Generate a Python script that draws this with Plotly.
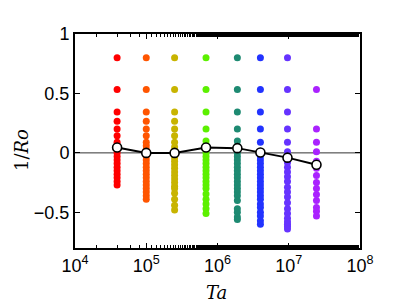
import plotly.graph_objects as go

# Ta values of each column
ta = [3.9e4, 1.0e5, 2.5e5, 6.9e5, 1.9e6, 4.0e6, 9.6e6, 2.45e7]
colors = ["#FF0000", "#FF5500", "#C8B400", "#5CF000", "#1E8A72", "#2233FF", "#6633FF", "#AA22FF"]

# 1/Ro values per column
inv_ro = [
    [0.8, 0.533, 0.343, 0.267, 0.2, 0.145, 0.09, 0.06, 0.03, 0.0, -0.03, -0.06, -0.09, -0.12,
     -0.15, -0.18, -0.21, -0.24, -0.27],
    [0.8, 0.533, 0.343, 0.267, 0.2, 0.145, 0.09, 0.06, 0.03, 0.0, -0.03, -0.06, -0.09, -0.12,
     -0.15, -0.18, -0.21, -0.24, -0.27, -0.3, -0.33, -0.36, -0.39],
    [0.8, 0.533, 0.343, 0.267, 0.2, 0.145, 0.09, 0.05, 0.02, -0.01, -0.04, -0.07, -0.1, -0.13,
     -0.16, -0.19, -0.22, -0.25, -0.28, -0.3, -0.34, -0.39, -0.44, -0.48],
    [0.8, 0.533, 0.343, 0.2, 0.1, 0.06, 0.03, 0.0, -0.03, -0.06, -0.09, -0.12, -0.15, -0.18,
     -0.21, -0.24, -0.27, -0.3, -0.345, -0.39, -0.43, -0.47, -0.51],
    [0.8, 0.533, 0.343, 0.2, 0.1, 0.06, 0.03, 0.0, -0.03, -0.06, -0.09, -0.12, -0.15, -0.18,
     -0.21, -0.24, -0.27, -0.3, -0.33, -0.36, -0.4, -0.47, -0.5, -0.54, -0.56],
    [0.8, 0.533, 0.343, 0.2, 0.09, 0.01, -0.03, -0.06, -0.09, -0.12, -0.15, -0.18, -0.21, -0.24,
     -0.27, -0.3, -0.33, -0.36, -0.39, -0.43, -0.46, -0.5, -0.53, -0.57, -0.6],
    [0.8, 0.533, 0.343, 0.2, 0.09, 0.01, -0.04, -0.08, -0.12, -0.16, -0.2, -0.24, -0.29, -0.33,
     -0.37, -0.42, -0.47, -0.51, -0.55, -0.58, -0.6, -0.62, -0.64],
    [0.533, 0.2, 0.09, 0.01, -0.07, -0.13, -0.19, -0.25, -0.3, -0.35, -0.4, -0.46, -0.49, -0.53],
]

# mean curve
mean_vals = [0.045, 0.0, 0.0, 0.045, 0.04, 0.003, -0.04, -0.1]

x_ticks = [1e4, 1e5, 1e6, 1e7, 1e8]
x_tick_text = ["10<sup>4</sup>", "10<sup>5</sup>", "10<sup>6</sup>", "10<sup>7</sup>", "10<sup>8</sup>"]
y_ticks = [-0.5, 0, 0.5, 1]
y_tick_text = ["\u22120.5", "0", "0.5", "1"]
x_title = "<i>Ta</i>"
y_title = "1/<i>Ro</i>"

fig = go.Figure()

for t, c, vals in zip(ta, colors, inv_ro):
    fig.add_trace(go.Scatter(
        x=[t] * len(vals), y=vals, mode="markers",
        marker=dict(color=c, size=7, line=dict(width=0)),
        showlegend=False, hoverinfo="skip"))

fig.add_shape(type="line", xref="paper", yref="y", x0=0, x1=1, y0=0, y1=0,
              line=dict(color="#333333", width=1), layer="below")

fig.add_trace(go.Scatter(
    x=ta, y=mean_vals, mode="lines+markers",
    line=dict(color="black", width=2),
    marker=dict(color="white", size=9, line=dict(color="black", width=1.6)),
    showlegend=False))

axis_common = dict(
    showline=True, linecolor="black", linewidth=2, mirror="allticks",
    ticks="inside", tickcolor="black", showgrid=False, zeroline=False,
    tickfont=dict(family="Liberation Sans, Arial, sans-serif", size=18, color="black"),
)

fig.update_xaxes(
    type="log", range=[4, 8], tickvals=x_ticks, ticktext=x_tick_text,
    ticklen=5, tickwidth=1,
    minor=dict(ticks="inside", ticklen=3, tickcolor="black", tickwidth=1, showgrid=False),
    **axis_common)
fig.update_yaxes(
    range=[-0.8, 1], tickvals=y_ticks, ticktext=y_tick_text,
    ticklen=5, tickwidth=1,
    **axis_common)

title_font = dict(family="DejaVu Serif, Liberation Serif, serif", size=18, color="black")
fig.add_annotation(text=x_title, xref="paper", yref="paper", x=0.498, y=-0.206,
                   xanchor="center", yanchor="middle", showarrow=False, font=title_font)
fig.add_annotation(text=y_title, xref="paper", yref="paper", x=-0.186, y=0.458,
                   xanchor="center", yanchor="middle", showarrow=False, font=title_font,
                   textangle=-90)

fig.update_layout(
    width=407, height=306,
    margin=dict(l=67, r=55, t=26, b=66),
    paper_bgcolor="white", plot_bgcolor="white",
)

fig.write_html("out.html")
